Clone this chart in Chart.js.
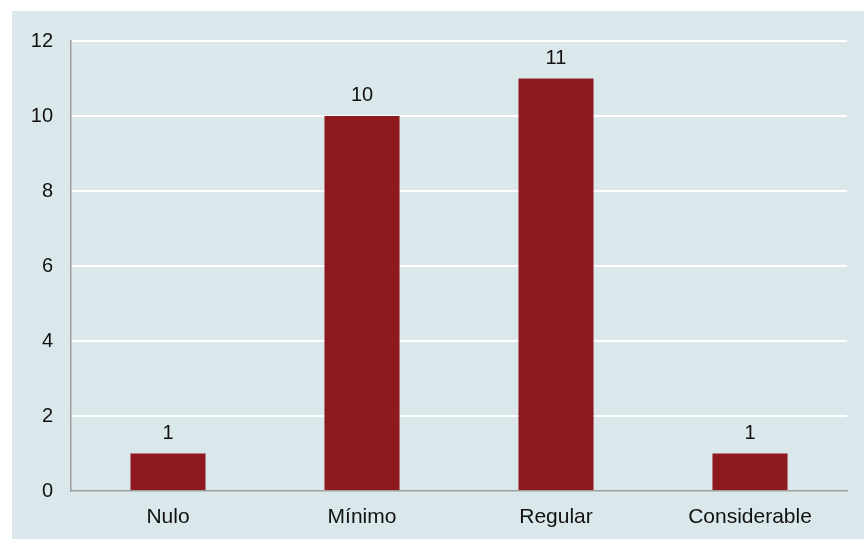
<!DOCTYPE html>
<html>
<head>
<meta charset="utf-8">
<script src="https://cdn.jsdelivr.net/npm/chart.js@4.4.0/dist/chart.umd.min.js"></script>
<style>
html,body{margin:0;padding:0;background:#ffffff;}
#wrap{width:864px;height:539px;position:relative;}
</style>
</head>
<body>
<div id="wrap"><canvas id="c" width="864" height="539"></canvas></div>
<script>
const categories = ["Nulo", "Mínimo", "Regular", "Considerable"];
const values = [1, 10, 11, 1];
const yTicks = [0, 2, 4, 6, 8, 10, 12];

const FONT = "'Liberation Sans', Arial, sans-serif";

const panelPlugin = {
  id: 'panel',
  beforeDraw(chart) {
    const ctx = chart.ctx;
    ctx.save();
    ctx.fillStyle = '#ffffff';
    ctx.fillRect(0, 0, chart.width, chart.height);
    ctx.fillStyle = '#dae7eb';
    ctx.fillRect(12, 11, chart.width - 12, chart.height - 11);
    ctx.restore();
  }
};

const labelPlugin = {
  id: 'barLabels',
  afterDatasetsDraw(chart) {
    const ctx = chart.ctx;
    const meta = chart.getDatasetMeta(0);
    ctx.save();
    ctx.font = '20px ' + FONT;
    ctx.fillStyle = '#111111';
    ctx.textAlign = 'center';
    ctx.textBaseline = 'alphabetic';
    meta.data.forEach((bar, i) => {
      ctx.fillText(String(values[i]), bar.x, bar.y - 15);
    });
    ctx.restore();
  }
};

new Chart(document.getElementById('c'), {
  type: 'bar',
  data: {
    labels: categories,
    datasets: [{
      data: values,
      backgroundColor: '#8e1a1f',
      borderWidth: 0,
      categoryPercentage: 1.0,
      barPercentage: 0.387
    }]
  },
  options: {
    responsive: false,
    animation: false,
    devicePixelRatio: 1,
    layout: { padding: { left: 0, right: 17, top: 41, bottom: 0 } },
    plugins: { legend: { display: false }, tooltip: { enabled: false } },
    scales: {
      x: {
        grid: { display: false, drawTicks: false },
        border: { display: true, color: '#a0a0a0', width: 1.5 },
        ticks: { color: '#111111', font: { family: FONT, size: 21 }, padding: 14, maxRotation: 0 },
        afterFit(scale) { scale.height = 48; }
      },
      y: {
        min: 0,
        max: 12,
        afterBuildTicks(scale) { scale.ticks = yTicks.map(v => ({ value: v })); },
        grid: {
          color: (c) => c.tick && c.tick.value === 0 ? 'rgba(0,0,0,0)' : '#ffffff',
          lineWidth: 2,
          drawTicks: false
        },
        border: { display: true, color: '#a0a0a0', width: 1.5 },
        ticks: { color: '#111111', font: { family: FONT, size: 20 }, padding: 18 },
        afterFit(scale) { scale.width = 71; }
      }
    }
  },
  plugins: [panelPlugin, labelPlugin]
});
</script>
</body>
</html>
